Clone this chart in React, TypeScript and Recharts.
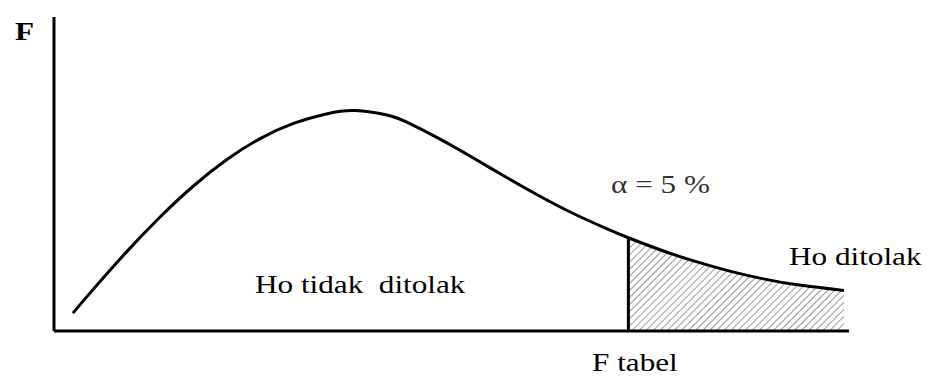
import * as React from 'react';
import {
  ComposedChart,
  Line,
  Area,
  XAxis,
  YAxis,
  ReferenceLine,
} from 'recharts';

// F values along the horizontal axis (axis spans 0..8)
const fValues = [
  0.19, 0.39, 0.73, 1.07, 1.4, 1.74, 2.07, 2.41, 2.75, 3.03, 3.35, 3.55,
  3.88, 4.22, 4.56, 4.89, 5.22, 5.56, 5.78, 6.14, 6.47, 6.81, 7.14, 7.48,
  7.95,
];
// density (axis spans 0..1)
const density = [
  0.057, 0.131, 0.252, 0.364, 0.461, 0.546, 0.612, 0.661, 0.692, 0.702,
  0.688, 0.665, 0.612, 0.551, 0.488, 0.429, 0.375, 0.326, 0.297, 0.254,
  0.22, 0.19, 0.166, 0.147, 0.129,
];
const fTabel = 5.78;

const labels = [
  { text: 'F', x: 15, y: 40, bold: true },
  { text: 'α = 5 %', x: 611, y: 193, color: '#333' },
  { text: 'Ho ditolak', x: 789, y: 265 },
  { text: 'Ho tidak  ditolak', x: 255, y: 293 },
  { text: 'F tabel', x: 592, y: 371 },
];

const data = fValues.map((f, i) => ({
  f,
  curve: density[i],
  tail: f >= fTabel ? density[i] : null,
}));

const tailStart = density[fValues.indexOf(fTabel)];

const serif = "'Liberation Serif', 'Times New Roman', serif";

export default function App() {
  return (
    <div style={{ position: 'absolute', left: 0, top: 0, width: 929, height: 376, background: '#fff' }}>
      <ComposedChart
        width={929}
        height={376}
        data={data}
        margin={{ top: 17, right: 80, bottom: 45, left: 54 }}
      >
        <defs>
          <pattern
            id="hatch"
            patternUnits="userSpaceOnUse"
            width={5}
            height={5}
            patternTransform="rotate(45)"
          >
            <line x1={0} y1={0} x2={0} y2={5} stroke="#333" strokeWidth={1} />
          </pattern>
        </defs>
        <XAxis type="number" dataKey="f" domain={[0, 8]} hide />
        <YAxis type="number" domain={[0, 1]} hide />
        <Area
          type="natural"
          dataKey="tail"
          stroke="none"
          fill="url(#hatch)"
          fillOpacity={1}
          baseValue={0}
          isAnimationActive={false}
        />
        <ReferenceLine
          segment={[{ x: fTabel, y: 0 }, { x: fTabel, y: tailStart }]}
          stroke="#000"
          strokeWidth={3}
        />
        <Line
          type="natural"
          dataKey="curve"
          stroke="#000"
          strokeWidth={3}
          dot={false}
          isAnimationActive={false}
        />
        <ReferenceLine x={0} stroke="#000" strokeWidth={3} />
        <ReferenceLine y={0} stroke="#000" strokeWidth={3} />
      </ComposedChart>
      <svg
        width={929}
        height={376}
        style={{ position: 'absolute', left: 0, top: 0, pointerEvents: 'none' }}
      >
        {labels.map((l) => (
          <text
            key={l.text}
            x={0}
            y={0}
            transform={`translate(${l.x},${l.y}) scale(1.2,1)`}
            fontSize={26}
            fontWeight={l.bold ? 700 : 400}
            fill={l.color ?? '#000'}
            style={{ whiteSpace: 'pre', fontFamily: serif }}
          >
            {l.text}
          </text>
        ))}
      </svg>
    </div>
  );
}
